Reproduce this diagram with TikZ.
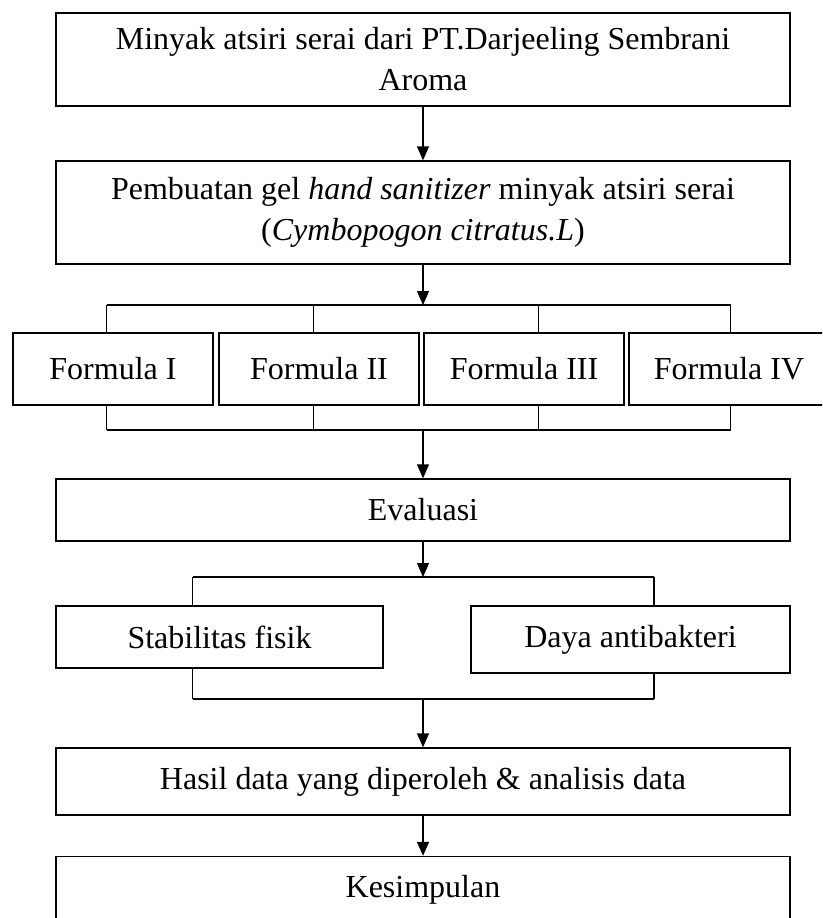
\documentclass[tikz,border=0pt]{standalone}
\usepackage{fontspec}
\setmainfont{Liberation Serif}
\usetikzlibrary{arrows.meta,positioning}

\begin{document}
\begin{tikzpicture}[x=1pt,y=-1pt,
    box/.style={draw,line width=1.4pt,align=center,inner sep=0pt,
      font=\fontsize{32}{41}\selectfont},
    wbox/.style={box,minimum width=734pt},
    fbox/.style={box,minimum width=200pt,minimum height=72pt},
    link/.style={line width=1.4pt},
    flow/.style={link,-{Triangle[length=14pt,width=12pt]}}]
      \clip (0,0) rectangle (822,918);
      \fill[white] (0,0) rectangle (822,918);
      % main column
      \node[wbox,minimum height=93pt] (src) at (423, 59.5) {Minyak atsiri serai dari PT.Darjeeling Sembrani\\ Aroma};
      \node[wbox,minimum height=103pt] (gel) at (423, 212.5) {Pembuatan gel \textit{hand sanitizer} minyak atsiri serai\\ (\textit{Cymbopogon citratus.L})};
      \node[fbox] (f1) at (113, 369) {Formula I};
      \node[fbox] (f2) at (319, 369) {Formula II};
      \node[fbox] (f3) at (524, 369) {Formula III};
      \node[fbox] (f4) at (729, 369) {Formula IV};
      \node[wbox,minimum height=62pt] (eval) at (423, 510) {Evaluasi};
      \node[box,minimum width=327pt,minimum height=62pt] (stab) at (219.5, 637) {Stabilitas fisik};
      \node[box,minimum width=319pt,minimum height=67pt] (anti) at (630.5, 639.5) {Daya antibakteri};
      \node[wbox,minimum height=67pt] (hasil) at (423, 781.5) {Hasil data yang diperoleh \& analisis data};
      \node[wbox,minimum height=67pt] (simpul) at (423, 890) {Kesimpulan};
      % junction points of the brackets
      \coordinate (split1) at (423, 305);
      \coordinate (join1) at (423, 430);
      \coordinate (split2) at (423, 577);
      \coordinate (join2) at (423, 699);
      \coordinate (t1) at (106.5, 305);
      \coordinate (t2) at (313.5, 305);
      \coordinate (t3) at (538.5, 305);
      \coordinate (t4) at (730.5, 305);
      \coordinate (b1) at (106.5, 430);
      \coordinate (b4) at (730.5, 430);
      \coordinate (s1) at (192.5, 577);
      \coordinate (s2) at (654, 577);
      \coordinate (d1) at (192.5, 699);
      \coordinate (d2) at (654, 699);
      % brackets
      \draw[link] (t1) -- (t4);
      \draw[link] (t1) -- (t1 |- f1.north);
      \draw[link] (t2) -- (t2 |- f2.north);
      \draw[link] (t3) -- (t3 |- f3.north);
      \draw[link] (t4) -- (t4 |- f4.north);
      \draw[link] (b1) -- (b4);
      \draw[link] (b1) -- (b1 |- f1.south);
      \draw[link] (t2 |- b1) -- (t2 |- f2.south);
      \draw[link] (t3 |- b1) -- (t3 |- f3.south);
      \draw[link] (b4) -- (b4 |- f4.south);
      \draw[link] (s1) -- (s2);
      \draw[link] (s1) -- (s1 |- stab.north);
      \draw[link] (s2) -- (s2 |- anti.north);
      \draw[link] (d1) -- (d2);
      \draw[link] (d1) -- (d1 |- stab.south);
      \draw[link] (d2) -- (d2 |- anti.south);
      % arrows
      \draw[flow] (src) -- (gel);
      \draw[flow] (gel) -- (split1);
      \draw[flow] (join1) -- (eval);
      \draw[flow] (eval) -- (split2);
      \draw[flow] (join2) -- (hasil);
      \draw[flow] (hasil) -- (simpul);
    \end{tikzpicture}
\end{document}
